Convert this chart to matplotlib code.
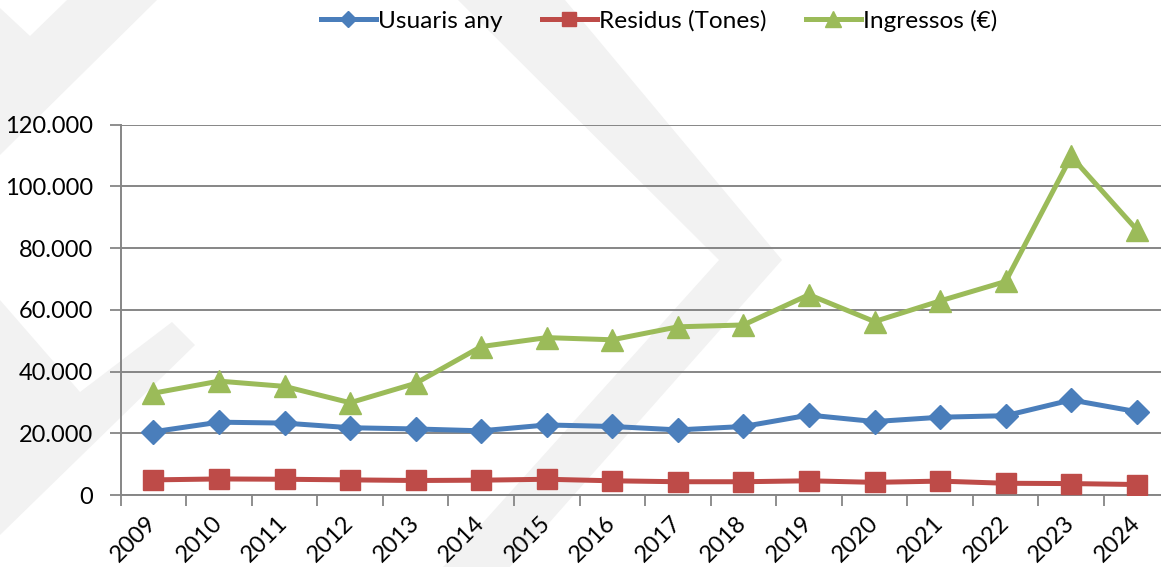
import matplotlib
matplotlib.use('Agg')
import matplotlib.pyplot as plt
import matplotlib.transforms as mtransforms
from matplotlib.patches import Polygon
from matplotlib.ticker import FuncFormatter, FixedLocator

# Data
years = ['2009', '2010', '2011', '2012', '2013', '2014', '2015', '2016',
         '2017', '2018', '2019', '2020', '2021', '2022', '2023', '2024']
usuaris = [20500, 23600, 23300, 21800, 21400, 20800, 22700, 22200,
           21100, 22200, 25900, 23800, 25200, 25700, 30800, 27000]
residus = [4900, 5200, 5100, 4900, 4700, 4800, 5100, 4600,
           4300, 4300, 4600, 4100, 4500, 3800, 3700, 3400]
ingressos = [33000, 36900, 35200, 29900, 36200, 48100, 51000, 50300,
             54500, 55100, 64900, 56200, 62900, 69200, 109700, 86000]
series_names = ['Usuaris any', 'Residus (Tones)', 'Ingressos (€)']

W, H = 1161, 567
plt.rcParams['font.family'] = ['Lato', 'DejaVu Sans']

fig = plt.figure(figsize=(W / 100, H / 100), dpi=100)
fig.patch.set_facecolor('white')

# faint watermark in the background (pixel coords, y from top)
wm_shapes = [
    [(458, 0), (565, 0), (782, 260), (510, 567), (443, 567), (719, 260)],
    [(0, 8), (30, 36), (67, 0), (157, 0), (0, 155)],
    [(0, 300), (80, 392), (172, 322), (195, 345), (0, 535)],
]
for shp in wm_shapes:
    pts = [(x / W, 1 - y / H) for x, y in shp]
    fig.patches.append(Polygon(pts, closed=True, transform=fig.transFigure,
                               facecolor='#f2f2f2', edgecolor='none', zorder=-5))

ax = fig.add_axes([120.7 / W, 72 / H, 1048.8 / W, 370.3 / H])
ax.set_zorder(2)
ax.patch.set_alpha(0)

x = list(range(len(years)))
grid_col = '#868686'
ax.plot(x, usuaris, color='#4a7ebb', lw=3.6, marker='D', ms=12,
        label=series_names[0], zorder=3)
ax.plot(x, residus, color='#be4b48', lw=3.6, marker='s', ms=15,
        label=series_names[1], zorder=3)
ax.plot(x, ingressos, color='#9bbb59', lw=3.6, marker='^', ms=15.5,
        label=series_names[2], zorder=3)

ax.set_xlim(-0.5, len(years) - 0.5)
ax.set_ylim(0, 120000)
ax.set_yticks(range(0, 120001, 20000))
ax.yaxis.set_major_formatter(FuncFormatter(lambda v, p: f'{v:,.0f}'.replace(',', '.')))
ax.yaxis.grid(True, color=grid_col, lw=1.4)
ax.set_axisbelow(True)

ax.set_xticks(x)
ax.set_xticklabels(years, rotation=45, ha='right', va='center',
                   rotation_mode='anchor')
shift = mtransforms.ScaledTranslation(5 / 100, 2 / 100, fig.dpi_scale_trans)
for lab in ax.get_xticklabels():
    lab.set_transform(lab.get_transform() + shift)
ax.xaxis.set_minor_locator(FixedLocator([i - 0.5 for i in range(len(years) + 1)]))
ax.tick_params(axis='x', which='major', length=0, pad=18, labelsize=17)
ax.tick_params(axis='x', which='minor', length=8, width=1.3, color=grid_col,
               direction='out')
ax.tick_params(axis='y', length=8, width=1.3, color=grid_col, pad=12,
               labelsize=17)

for s in ['top', 'right']:
    ax.spines[s].set_visible(False)
for s in ['left', 'bottom']:
    ax.spines[s].set_color(grid_col)
    ax.spines[s].set_linewidth(1.4)

fig.legend(loc='center', bbox_to_anchor=(0.5676, 0.963), ncol=3, frameon=False,
           fontsize=17.6, handlelength=2.25, handletextpad=0.1,
           columnspacing=1.6, markerscale=0.7)

fig.savefig('out.png', dpi=100)
